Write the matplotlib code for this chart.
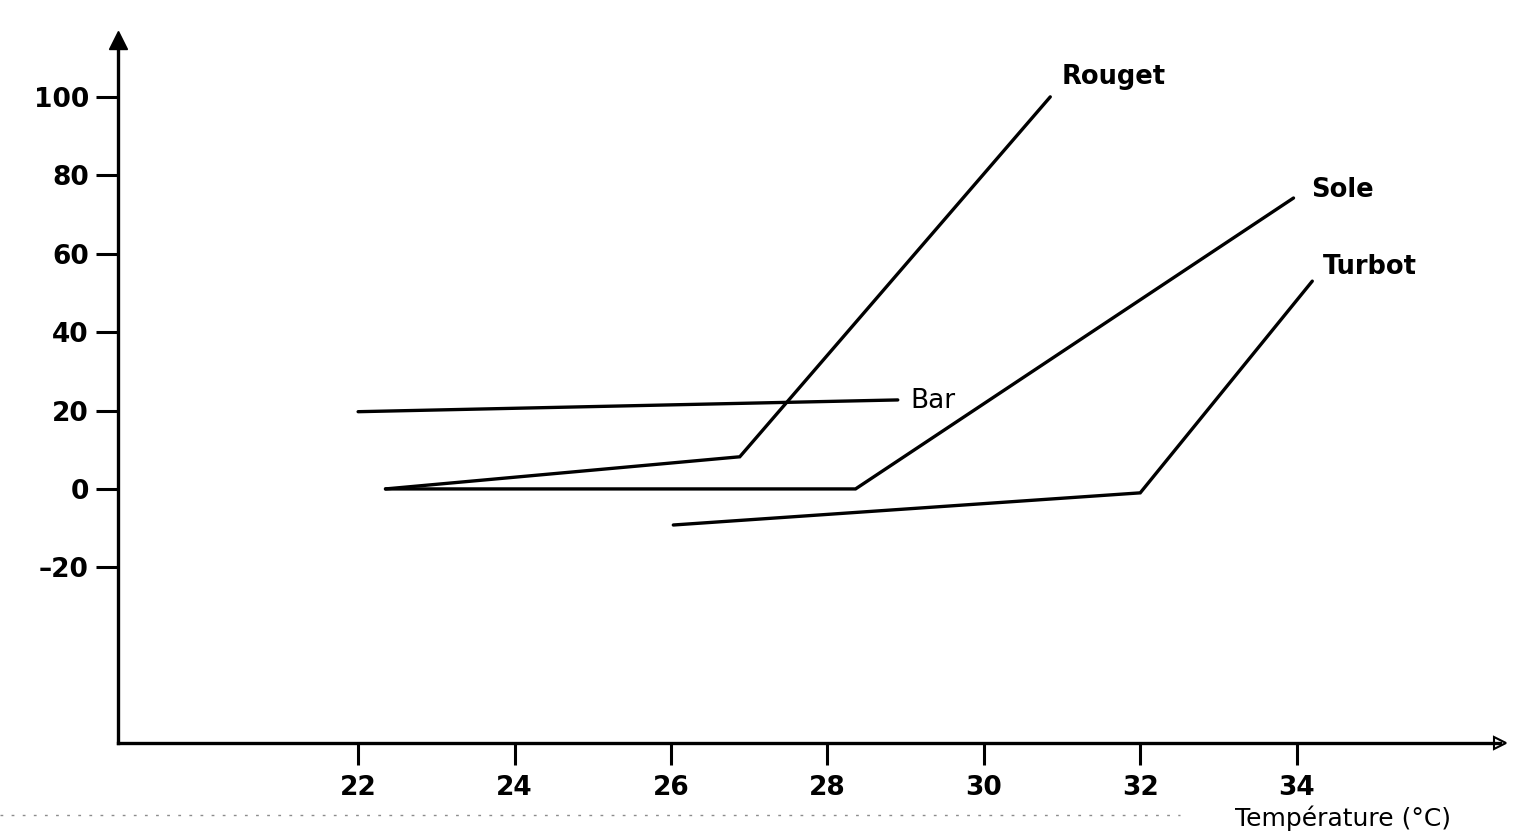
import matplotlib
matplotlib.use("Agg")
import matplotlib.pyplot as plt

# Temperature (°C) vs. response (%) for four fish species
bar_t = [22.0, 28.9]
bar_v = [19.7, 22.7]

rouget_t = [22.35, 26.88, 30.85]
rouget_v = [0.0, 8.2, 100.0]

sole_t = [22.35, 28.36, 33.96]
sole_v = [0.0, 0.0, 74.2]

turbot_t = [26.03, 32.0, 34.2]
turbot_v = [-9.2, -1.0, 53.0]

x_ticks = [22, 24, 26, 28, 30, 32, 34]
y_ticks = [-20, 0, 20, 40, 60, 80, 100]
x_label = "Température (°C)"

W, H = 1528, 833
fig = plt.figure(figsize=(W / 100, H / 100), dpi=100)
ax = fig.add_axes([118 / W, (H - 743) / H, (1500 - 118) / W, (743 - 40) / H])
ax.set_xlim(18.93, 36.6)
ax.set_ylim(-64.8, 114.5)

tick_font = dict(family="DejaVu Sans", weight="bold", size=19)
name_font = dict(family="DejaVu Sans", weight="bold", size=18.5)
lw = 2.4
for t, v in [(bar_t, bar_v), (rouget_t, rouget_v), (sole_t, sole_v), (turbot_t, turbot_v)]:
    ax.plot(t, v, color="black", lw=lw, solid_capstyle="round", solid_joinstyle="miter")

# series names next to the line ends
ax.text(bar_t[-1] + 0.16, bar_v[-1] - 0.3, "Bar", ha="left", va="center",
        family="DejaVu Sans", size=19)
ax.text(rouget_t[-1] + 0.15, rouget_v[-1] + 5.0, "Rouget", ha="left", va="center", **name_font)
ax.text(sole_t[-1] + 0.22, sole_v[-1] + 2.0, "Sole", ha="left", va="center", **name_font)
ax.text(turbot_t[-1] + 0.13, turbot_v[-1] + 3.5, "Turbot", ha="left", va="center", **name_font)

for s in ["top", "right"]:
    ax.spines[s].set_visible(False)
for s in ["left", "bottom"]:
    ax.spines[s].set_linewidth(2.4)
    ax.spines[s].set_color("black")

ax.set_xticks(x_ticks)
ax.set_yticks(y_ticks)
ax.set_xticklabels([str(v) for v in x_ticks], **tick_font)
ax.set_yticklabels([("\u2013" + str(-v)) if v < 0 else str(v) for v in y_ticks], **tick_font)
ax.tick_params(axis="both", direction="out", length=16, width=2.2, color="black")
ax.tick_params(axis="y", pad=5)
ax.tick_params(axis="x", pad=7)

# arrowheads at the axis ends
ax.plot([0], [1], marker="^", markersize=13, color="black",
        transform=ax.transAxes, clip_on=False)
ax.plot([1], [0], marker=">", markersize=8, color="black", markerfacecolor="white",
        markeredgewidth=1.5, transform=ax.transAxes, clip_on=False)

# axis title at the bottom right of the page
fig.text(1235 / W, 1 - 831 / H, x_label, ha="left", va="bottom",
         family="DejaVu Sans", size=18, color="black")
fig.add_artist(plt.Line2D([0, 1180 / W], [1 - 815 / H] * 2, transform=fig.transFigure,
                          color="0.55", lw=1.0, ls=(0, (2, 6))))

fig.savefig("out.png", dpi=100, facecolor="white")
